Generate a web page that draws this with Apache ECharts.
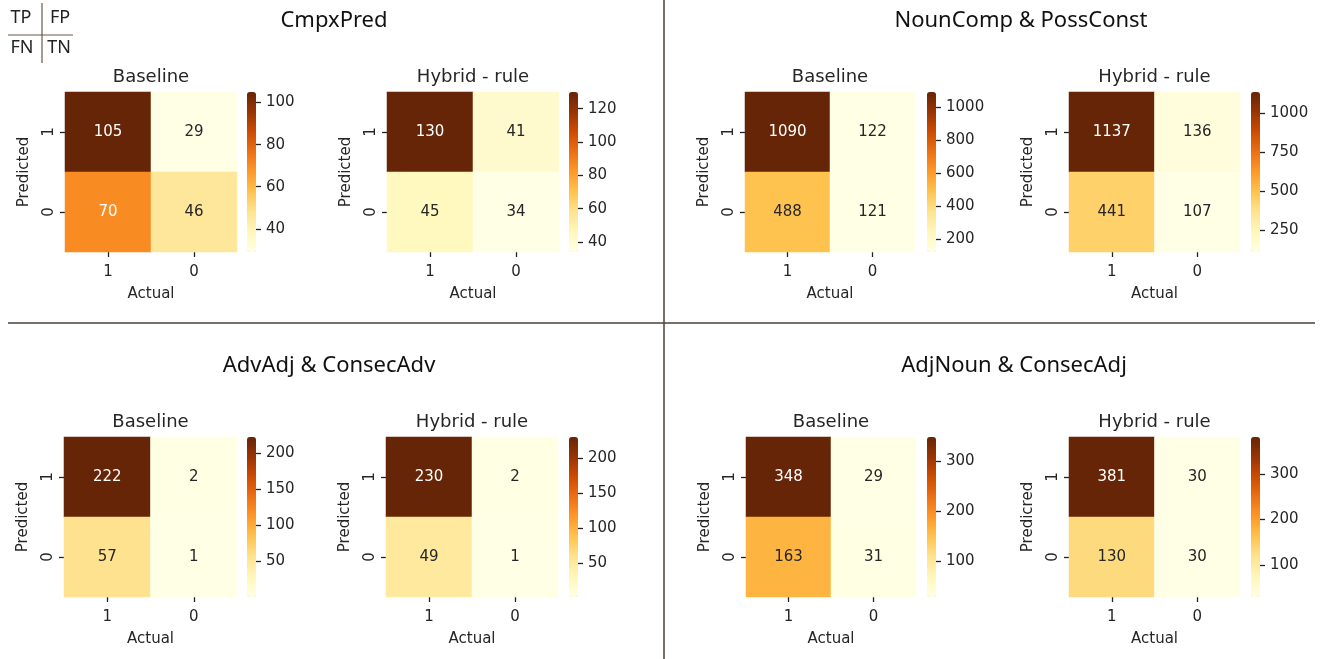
<!DOCTYPE html>
<html>
<head>
<meta charset="utf-8">
<script src="https://cdn.jsdelivr.net/npm/echarts@6/dist/echarts.min.js"></script>
<style>
  html, body { margin: 0; padding: 0; background: #fff; }
  #main { width: 1325px; height: 659px; }
</style>
</head>
<body>
<div id="main"></div>
<script>
var chart = echarts.init(document.getElementById('main'));

// categories
var actualCats = ['1', '0'];
var predCats = ['0', '1'];   // bottom -> top

// confusion matrices: rows = Predicted 1, Predicted 0 ; columns = Actual 1, Actual 0
var cmpxBase   = [[105, 29], [70, 46]];
var cmpxHybrid = [[130, 41], [45, 34]];
var nounBase   = [[1090, 122], [488, 121]];
var nounHybrid = [[1137, 136], [441, 107]];
var advBase    = [[222, 2], [57, 1]];
var advHybrid  = [[230, 2], [49, 1]];
var adjBase    = [[348, 29], [163, 31]];
var adjHybrid  = [[381, 30], [130, 30]];

var groupTitles = ['CmpxPred', 'NounComp & PossConst', 'AdvAdj & ConsecAdv', 'AdjNoun & ConsecAdj'];
var subTitles = ['Baseline', 'Hybrid - rule'];
var yNames = ['Predicted', 'Predicted', 'Predicted', 'Predicted', 'Predicted', 'Predicted', 'Predicted', 'Predicred'];

// colorbar tick labels
var cbTicks = [
    [40, 60, 80, 100],
    [40, 60, 80, 100, 120],
    [200, 400, 600, 800, 1000],
    [250, 500, 750, 1000],
    [50, 100, 150, 200],
    [50, 100, 150, 200],
    [100, 200, 300],
    [100, 200, 300]
];

// YlOrBr
var ylOrBr = ['#ffffe5', '#fff7bc', '#fee391', '#fec44f', '#fe9929', '#ec7014', '#cc4c02', '#993404', '#662506'];

var font = 'DejaVu Sans';
var textCol = '#262626';
var fs = 15;

// panel layout (pixels)
var panels = [
    { m: cmpxBase,   x: 65,   y: 92,  w: 172, cb: 247 },
    { m: cmpxHybrid, x: 387,  y: 92,  w: 172, cb: 569 },
    { m: nounBase,   x: 745,  y: 92,  w: 170, cb: 927 },
    { m: nounHybrid, x: 1069, y: 92,  w: 171, cb: 1251 },
    { m: advBase,    x: 64,   y: 437, w: 173, cb: 247 },
    { m: advHybrid,  x: 386,  y: 437, w: 172, cb: 569 },
    { m: adjBase,    x: 746,  y: 437, w: 170, cb: 927 },
    { m: adjHybrid,  x: 1069, y: 437, w: 171, cb: 1251 }
];
var H = 160, CBW = 9;
var tickStyle = { show: true, length: 5, lineStyle: { color: '#222', width: 1.3 } };
// seaborn hides spines, keep the line but invisible so ticks still draw
var hiddenLine = { show: true, onZero: false, lineStyle: { color: 'rgba(0,0,0,0)' } };

var grid = [], xAxis = [], yAxis = [], series = [], visualMap = [], graphic = [];

panels.forEach(function (p, i) {
    var flat = [p.m[0][0], p.m[0][1], p.m[1][0], p.m[1][1]];
    var mn = Math.min.apply(null, flat), mx = Math.max.apply(null, flat);

    // heatmap grid
    grid.push({ left: p.x, top: p.y, width: p.w, height: H });
    xAxis.push({
        type: 'category', gridIndex: 2 * i, data: actualCats,
        axisLine: hiddenLine,
        axisTick: Object.assign({ alignWithLabel: true }, tickStyle),
        axisLabel: { fontFamily: font, fontSize: fs, color: textCol, margin: 13 },
        splitLine: { show: false },
        name: 'Actual', nameLocation: 'middle', nameGap: 35,
        nameTextStyle: { fontFamily: font, fontSize: fs, color: textCol }
    });
    yAxis.push({
        type: 'category', gridIndex: 2 * i, data: predCats,
        axisLine: hiddenLine,
        axisTick: Object.assign({ alignWithLabel: true }, tickStyle),
        axisLabel: { fontFamily: font, fontSize: fs, color: textCol, rotate: 90, margin: 8 },
        splitLine: { show: false },
        name: yNames[i], nameLocation: 'middle', nameGap: 33, nameRotate: 90,
        nameTextStyle: { fontFamily: font, fontSize: fs, color: textCol }
    });

    // colorbar axis grid
    grid.push({ left: p.cb, top: p.y, width: CBW, height: H });
    xAxis.push({ type: 'value', gridIndex: 2 * i + 1, show: false });
    yAxis.push({
        type: 'value', gridIndex: 2 * i + 1, position: 'right', min: mn, max: mx,
        axisLine: hiddenLine,
        splitLine: { show: false },
        axisTick: Object.assign({ customValues: cbTicks[i] }, tickStyle),
        axisLabel: {
            fontFamily: font, fontSize: fs, color: textCol, margin: 10,
            customValues: cbTicks[i],
            formatter: function (v) { return String(v); }
        }
    });

    var data = [];
    for (var r = 0; r < 2; r++) {
        for (var c = 0; c < 2; c++) {
            var v = p.m[r][c];
            var t = (v - mn) / (mx - mn);
            data.push({ value: [c, 1 - r, v], label: { color: t > 0.5 ? '#ffffff' : textCol } });
        }
    }
    series.push({
        type: 'heatmap', xAxisIndex: 2 * i, yAxisIndex: 2 * i, data: data,
        label: { show: true, fontFamily: font, fontSize: fs },
        emphasis: { disabled: true },
        itemStyle: { borderWidth: 0 }
    });

    visualMap.push({
        type: 'continuous', seriesIndex: i, min: mn, max: mx,
        calculable: false, orient: 'vertical',
        left: p.cb, top: p.y, itemWidth: CBW, itemHeight: H, padding: 0,
        text: null, showLabel: false, hoverLink: false,
        inRange: { color: ylOrBr }
    });

    graphic.push({
        type: 'text', x: p.x + p.w / 2, y: p.y - 15,
        style: { text: subTitles[i % 2], textAlign: 'center', verticalAlign: 'middle',
                 font: '18px "DejaVu Sans"', fill: textCol }
    });
});

// group titles
var titlePos = [[334, 21], [1021, 21], [329, 366], [1014, 366]];
groupTitles.forEach(function (t, k) {
    graphic.push({
        type: 'text', x: titlePos[k][0], y: titlePos[k][1],
        style: { text: t, textAlign: 'center', verticalAlign: 'middle',
                 font: '22px "Noto Sans"', fill: '#111' }
    });
});

// dividers
var lineCol = '#4a4038';
graphic.push({ type: 'line', shape: { x1: 664, y1: 0, x2: 664, y2: 659 }, style: { stroke: lineCol, lineWidth: 1.5 } });
graphic.push({ type: 'line', shape: { x1: 8, y1: 323, x2: 1315, y2: 323 }, style: { stroke: lineCol, lineWidth: 1.5 } });

// TP/FP key
graphic.push({ type: 'line', shape: { x1: 42, y1: 3, x2: 42, y2: 63 }, style: { stroke: '#6b5a4a', lineWidth: 1.2 } });
graphic.push({ type: 'line', shape: { x1: 8, y1: 35, x2: 73, y2: 35 }, style: { stroke: '#6b5a4a', lineWidth: 1.2 } });
[['TP', 21, 18], ['FP', 60, 18], ['FN', 22, 48], ['TN', 59, 48]].forEach(function (q) {
    graphic.push({
        type: 'text', x: q[1], y: q[2],
        style: { text: q[0], textAlign: 'center', verticalAlign: 'middle',
                 font: '18px "Noto Sans"', fill: '#222' }
    });
});

var option = {
    backgroundColor: '#fff',
    animation: false,
    grid: grid,
    xAxis: xAxis,
    yAxis: yAxis,
    visualMap: visualMap,
    series: series,
    graphic: graphic
};
chart.setOption(option);
</script>
</body>
</html>
